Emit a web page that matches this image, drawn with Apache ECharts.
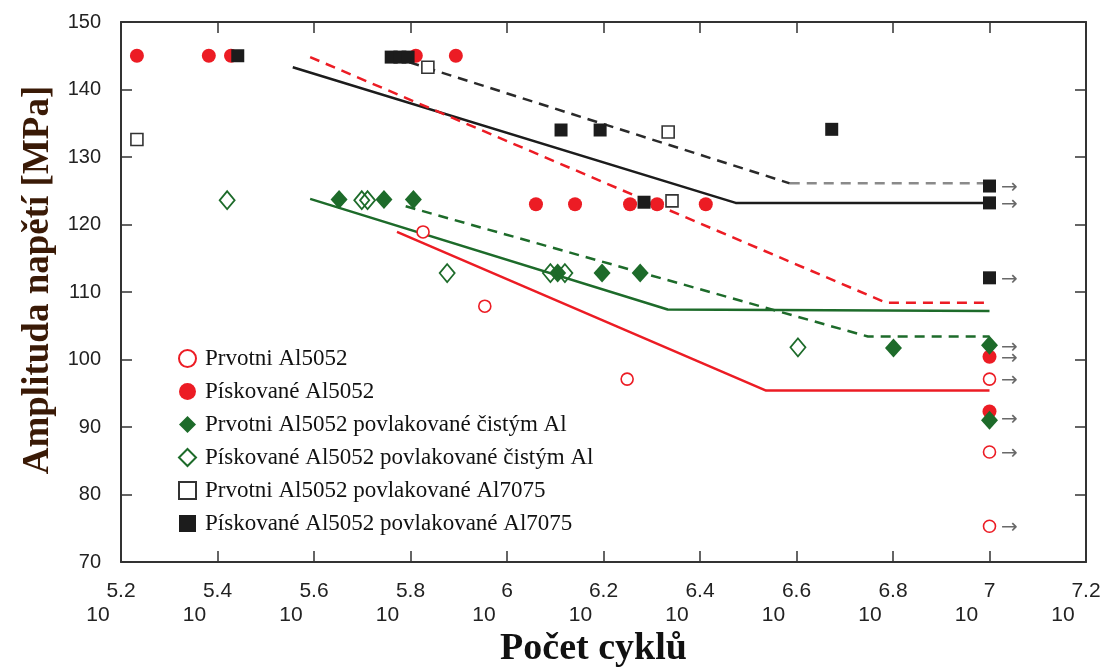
<!DOCTYPE html>
<html>
<head>
<meta charset="utf-8">
<script src="https://cdn.jsdelivr.net/npm/echarts@6/dist/echarts.min.js"></script>
<style>
  html, body { margin: 0; padding: 0; background: #fff; }
  #chart { width: 1110px; height: 667px; }
</style>
</head>
<body>
<div id="chart"></div>
<script>
// osa x = exponent počtu cyklů (10^x), osa y = amplituda napětí [MPa]

// Prvotni Al5052 (prázdné červené kroužky)
const prvotniX = [5.826, 5.954, 6.249, 7.0, 7.0, 7.0]
const prvotniY = [118.9, 107.9, 97.1, 97.1, 86.3, 75.3]

// Pískované Al5052 (plné červené kroužky)
const piskX = [5.233, 5.382, 5.428, 5.811, 5.894, 6.06, 6.141, 6.255, 6.311, 6.412, 7.0, 7.0]
const piskY = [145, 145, 145, 145, 145, 123, 123, 123, 123, 123, 100.4, 92.3]

// Prvotni Al5052 povlakované čistým Al (plné kosočtverce)
const prvotniAlX = [5.652, 5.745, 5.806, 6.105, 6.197, 6.276, 6.801, 7.0, 7.0]
const prvotniAlY = [123.7, 123.7, 123.7, 112.8, 112.8, 112.8, 101.7, 102.1, 91.0]

// Pískované Al5052 povlakované čistým Al (prázdné kosočtverce)
const piskAlX = [5.42, 5.699, 5.711, 5.876, 6.09, 6.12, 6.603]
const piskAlY = [123.6, 123.6, 123.6, 112.8, 112.8, 112.8, 101.8]

// Prvotni Al5052 povlakované Al7075 (prázdné čtverce)
const prvotni7075X = [5.233, 5.836, 6.334, 6.342]
const prvotni7075Y = [132.6, 143.3, 133.7, 123.5]

// Pískované Al5052 povlakované Al7075 (plné čtverce)
const pisk7075X = [5.442, 5.76, 5.778, 5.795, 6.112, 6.193, 6.284, 6.673, 7.0, 7.0, 7.0]
const pisk7075Y = [145, 144.8, 144.8, 144.8, 134, 134, 123.3, 134.1, 125.7, 123.2, 112.1]

// proložené křivky [exponent, MPa]
const blackSolid = [[5.556, 143.3], [6.474, 123.2], [7.0, 123.2]]
const blackDash = [[5.764, 144.8], [6.586, 126.1]]
const blackDashFlat = [[6.586, 126.1], [7.0, 126.1]]
const redDash = [[5.592, 144.8], [6.786, 108.4], [7.0, 108.4]]
const redSolid = [[5.772, 118.9], [6.537, 95.4], [7.0, 95.4]]
const greenSolid = [[5.592, 123.8], [6.333, 107.4], [7.0, 107.2]]
const greenDash = [[5.79, 122.7], [6.748, 103.4], [7.0, 103.4]]

// neporušené vzorky (šipky) při 10^7
const runoutX = 7.0
const runoutY = [125.7, 123.2, 112.1, 102.1, 100.4, 97.1, 91.3, 86.3, 75.3]

const RED = '#ec1c24'
const GREEN = '#1d6b2a'
const BLACK = '#1c1c1c'

const zip = (xs, ys) => xs.map((x, i) => [x, ys[i]])

const myChart = echarts.init(document.querySelector('#chart'))

const frame = { show: true, lineStyle: { color: '#333', width: 2 } }
const ticks = { show: true, inside: true, length: 11, lineStyle: { color: '#333', width: 1.5 } }

function fitLine(data, color, type) {
  return {
    type: 'line',
    data: data,
    symbol: 'none',
    silent: true,
    lineStyle: { color: color, width: 2.5, type: type },
    z: 1
  }
}

const option = {
  animation: false,
  grid: {
    left: 121,
    right: 24,
    top: 22,
    bottom: 105,
    outerBoundsMode: 'none'
  },
  legend: {
    orient: 'vertical',
    left: 173,
    top: 342,
    itemWidth: 17,
    itemHeight: 17,
    itemGap: 10,
    textStyle: {
      fontFamily: 'Liberation Serif',
      fontSize: 23,
      lineHeight: 22,
      color: '#111',
      padding: [0, 0, 0, 4]
    },
    data: [
      'Prvotni Al5052',
      'Pískované Al5052',
      'Prvotni Al5052 povlakované čistým Al',
      'Pískované Al5052 povlakované čistým Al',
      'Prvotni Al5052 povlakované Al7075',
      'Pískované Al5052 povlakované Al7075'
    ]
  },
  xAxis: [
    {
      type: 'value',
      min: 5.2,
      max: 7.2,
      interval: 0.2,
      position: 'bottom',
      axisLine: frame,
      axisTick: ticks,
      splitLine: { show: false },
      axisLabel: {
        margin: 17,
        formatter: function (v) {
          let e = (+v.toFixed(1)).toString()
          return '{e|' + e + '}\n{b|10}'
        },
        rich: {
          e: { fontFamily: 'Liberation Sans', fontSize: 21, color: '#222', lineHeight: 24 },
          b: { fontFamily: 'Liberation Sans', fontSize: 21, color: '#222', lineHeight: 24, padding: [0, 46, 0, 0] }
        }
      },
      name: 'Počet cyklů',
      nameLocation: 'middle',
      nameGap: 68,
      nameTextStyle: {
        fontFamily: 'Liberation Serif',
        fontWeight: 'bold',
        fontSize: 38,
        color: '#111',
        padding: [0, 20, 0, 0]
      }
    },
    {
      type: 'value',
      min: 5.2,
      max: 7.2,
      interval: 0.2,
      position: 'top',
      axisLine: frame,
      axisTick: ticks,
      axisLabel: { show: false },
      splitLine: { show: false }
    }
  ],
  yAxis: [
    {
      type: 'value',
      min: 70,
      max: 150,
      interval: 10,
      position: 'left',
      axisLine: frame,
      axisTick: ticks,
      splitLine: { show: false },
      axisLabel: {
        margin: 20,
        fontFamily: 'Liberation Sans',
        fontSize: 20,
        color: '#222'
      },
      name: 'Amplituda napětí [MPa]',
      nameLocation: 'middle',
      nameGap: 64,
      nameTextStyle: {
        fontFamily: 'Liberation Serif',
        fontWeight: 'bold',
        fontSize: 37,
        color: '#3a1a06',
        padding: [0, 0, 0, 24]
      }
    },
    {
      type: 'value',
      min: 70,
      max: 150,
      interval: 10,
      position: 'right',
      axisLine: frame,
      axisTick: ticks,
      axisLabel: { show: false },
      splitLine: { show: false }
    }
  ],
  series: [
    // křivky
    fitLine(blackSolid, BLACK, 'solid'),
    fitLine(blackDash, '#2a2a2a', [10, 7]),
    fitLine(blackDashFlat, '#8a8a8a', [10, 7]),
    fitLine(redDash, RED, [10, 7]),
    fitLine(redSolid, RED, 'solid'),
    fitLine(greenSolid, GREEN, 'solid'),
    fitLine(greenDash, GREEN, [10, 7]),
    // šipky u neporušených vzorků
    {
      type: 'scatter',
      data: runoutY.map(y => [runoutX, y]),
      symbolSize: 1,
      itemStyle: { color: 'rgba(0,0,0,0)' },
      silent: true,
      label: {
        show: true,
        position: 'right',
        offset: [6, 2],
        formatter: '→',
        fontFamily: 'DejaVu Sans',
        fontSize: 20,
        color: '#444'
      }
    },
    // body
    {
      name: 'Prvotni Al5052',
      type: 'scatter',
      data: zip(prvotniX, prvotniY),
      symbol: 'circle',
      symbolSize: 12,
      itemStyle: { color: '#fff', borderColor: RED, borderWidth: 1.6, opacity: 1 },
      z: 4
    },
    {
      name: 'Pískované Al5052',
      type: 'scatter',
      data: zip(piskX, piskY),
      symbol: 'circle',
      symbolSize: 14,
      itemStyle: { color: RED, opacity: 1 },
      z: 4
    },
    {
      name: 'Prvotni Al5052 povlakované čistým Al',
      type: 'scatter',
      data: zip(prvotniAlX, prvotniAlY),
      symbol: 'diamond',
      symbolSize: [17, 19],
      itemStyle: { color: GREEN, opacity: 1 },
      z: 5
    },
    {
      name: 'Pískované Al5052 povlakované čistým Al',
      type: 'scatter',
      data: zip(piskAlX, piskAlY),
      symbol: 'diamond',
      symbolSize: [15, 18],
      itemStyle: { color: 'rgba(255,255,255,0)', borderColor: GREEN, borderWidth: 1.8, opacity: 1 },
      z: 5
    },
    {
      name: 'Prvotni Al5052 povlakované Al7075',
      type: 'scatter',
      data: zip(prvotni7075X, prvotni7075Y),
      symbol: 'rect',
      symbolSize: 12,
      itemStyle: { color: '#fff', borderColor: '#333', borderWidth: 1.6, opacity: 1 },
      z: 4
    },
    {
      name: 'Pískované Al5052 povlakované Al7075',
      type: 'scatter',
      data: zip(pisk7075X, pisk7075Y),
      symbol: 'rect',
      symbolSize: 13,
      itemStyle: { color: BLACK, opacity: 1 },
      z: 4
    }
  ]
}

myChart.setOption(option)
</script>
</body>
</html>
